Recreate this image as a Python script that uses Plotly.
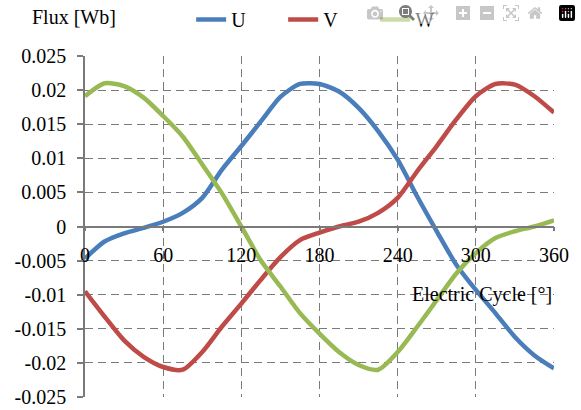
import plotly.graph_objects as go

degrees = [0, 15, 30, 45, 60, 75, 90, 105, 120, 135, 150, 165, 180,
           195, 210, 225, 240, 255, 270, 285, 300, 315, 330, 345, 360]

flux_u = [-0.0047, -0.0022, -0.0010, -0.0002, 0.0007, 0.0020, 0.0042, 0.0083,
          0.0118, 0.0154, 0.0190, 0.0209, 0.0209, 0.0198, 0.0174, 0.0140,
          0.0098, 0.0044, -0.0007, -0.0056, -0.0093, -0.0127, -0.0162, -0.0189,
          -0.0208]

flux_v = [-0.0095, -0.0132, -0.0167, -0.0191, -0.0206, -0.0210, -0.0184, -0.0147,
          -0.0113, -0.0078, -0.0045, -0.0020, -0.0009, 0.0000, 0.0007, 0.0020,
          0.0042, 0.0081, 0.0118, 0.0157, 0.0191, 0.0209, 0.0208, 0.0191,
          0.0167]

flux_w = [0.0191, 0.0210, 0.0206, 0.0189, 0.0162, 0.0132, 0.0091, 0.0049,
          0.0000, -0.0050, -0.0088, -0.0127, -0.0157, -0.0184, -0.0203, -0.0210,
          -0.0184, -0.0147, -0.0108, -0.0069, -0.0039, -0.0017, -0.0007, 0.0000,
          0.0009]

series_names = ["U", "V", "W"]
series_colors = ["#4A7EBB", "#BE4B48", "#98B954"]

x_tick_vals = [0, 60, 120, 180, 240, 300, 360]
y_tick_vals = [0.025, 0.02, 0.015, 0.01, 0.005, 0, -0.005, -0.01, -0.015, -0.02, -0.025]
y_tick_text = ["0.025", "0.02", "0.015", "0.01", "0.005", "0", "-0.005", "-0.01",
               "-0.015", "-0.02", "-0.025"]

FONT = "Liberation Serif"
FS = 20
GRID = "#7a7a7a"
PLOT_L, PLOT_R, PLOT_T, PLOT_B = 84.5, 553.7, 56, 397

fig = go.Figure()
for name, vals, col in zip(series_names, [flux_u, flux_v, flux_w], series_colors):
    fig.add_trace(go.Scatter(
        x=degrees, y=vals, name=name, mode="lines",
        line=dict(color=col, width=4.5, shape="spline", smoothing=0.7),
    ))

fig.update_layout(
    width=581, height=410,
    margin=dict(l=PLOT_L, r=581 - PLOT_R, t=PLOT_T, b=410 - PLOT_B, autoexpand=False),
    paper_bgcolor="white", plot_bgcolor="white",
    font=dict(family=FONT, size=FS, color="black"),
    showlegend=True,
    legend=dict(
        orientation="h", xref="container", yref="container",
        x=0.329, y=1 - 19.5 / 410, xanchor="left", yanchor="middle",
        font=dict(family=FONT, size=FS, color="black"),
        bgcolor="rgba(0,0,0,0)", itemwidth=30, entrywidth=47,
    ),
    xaxis=dict(
        range=[0, 360], tickvals=x_tick_vals,
        anchor="free", position=0.5,
        showline=True, linecolor=GRID, linewidth=1.5,
        ticks="outside", ticklen=4, tickcolor=GRID, tickwidth=1.5,
        ticklabelstandoff=7,
        showgrid=True, gridcolor=GRID, gridwidth=1.4, griddash="8px,5px",
        zeroline=False,
        tickfont=dict(family=FONT, size=FS, color="black"),
    ),
    yaxis=dict(
        range=[-0.025, 0.025], tickvals=y_tick_vals, ticktext=y_tick_text,
        showline=True, linecolor=GRID, linewidth=1.5,
        ticks="outside", ticklen=6, tickcolor=GRID, tickwidth=1.5,
        ticklabelstandoff=7,
        showgrid=True, gridcolor=GRID, gridwidth=1.4, griddash="8px,5px",
        zeroline=True, zerolinecolor=GRID, zerolinewidth=1.5,
        tickfont=dict(family=FONT, size=FS, color="black"),
    ),
    annotations=[
        dict(text="Flux [Wb]", xref="paper", yref="paper",
             x=(29 - PLOT_L) / (PLOT_R - PLOT_L),
             y=1 + (PLOT_T - 17) / (PLOT_B - PLOT_T),
             xanchor="left", yanchor="middle", showarrow=False,
             font=dict(family=FONT, size=FS, color="black")),
        dict(text="Electric Cycle [°]", xref="x", yref="y",
             x=360, y=-0.01, xanchor="right", yanchor="middle", showarrow=False,
             font=dict(family=FONT, size=FS, color="black")),
    ],
)

fig.write_html("out.html", post_script="document.body.style.margin='0';")
